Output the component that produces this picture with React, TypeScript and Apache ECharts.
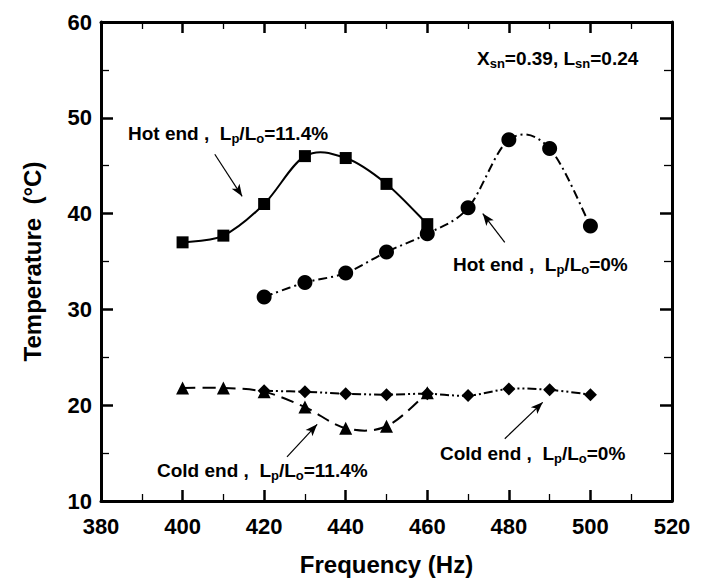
import React, { useEffect, useRef } from "react";
import * as echarts from "echarts";

const hotEnd114 = [[400, 37.0], [410, 37.7], [420, 41.0], [430, 46.0], [440, 45.8], [450, 43.1], [460, 38.9]];
const hotEnd0 = [[420, 31.3], [430, 32.8], [440, 33.8], [450, 36.0], [460, 37.9], [470, 40.6], [480, 47.7], [490, 46.8], [500, 38.7]];
const coldEnd114 = [[400, 21.8], [410, 21.8], [420, 21.4], [430, 19.8], [440, 17.6], [450, 17.8], [460, 21.3]];
const coldEnd0 = [[420, 21.5], [430, 21.4], [440, 21.2], [450, 21.1], [460, 21.2], [470, 21.0], [480, 21.7], [490, 21.6], [500, 21.1]];

const xTicks = [380, 400, 420, 440, 460, 480, 500, 520];
const yTicks = [10, 20, 30, 40, 50, 60];

// annotation arrows in data coordinates: [fromX, fromY, toX, toY]
const arrows = [
  [407.9, 46.2, 414.6, 41.8],
  [479.0, 37.0, 473.6, 40.0],
  [425.6, 14.6, 433.0, 18.0],
  [479.0, 16.5, 488.3, 20.3],
];

const FONT = "Liberation Sans, Arial, sans-serif";

function catmullPath(pts: number[][]) {
  let d = `M${pts[0][0]},${pts[0][1]}`;
  for (let i = 0; i < pts.length - 1; i++) {
    const p0 = pts[Math.max(0, i - 1)];
    const p1 = pts[i];
    const p2 = pts[i + 1];
    const p3 = pts[Math.min(pts.length - 1, i + 2)];
    const c1x = p1[0] + (p2[0] - p0[0]) / 6;
    const c1y = p1[1] + (p2[1] - p0[1]) / 6;
    const c2x = p2[0] - (p3[0] - p1[0]) / 6;
    const c2y = p2[1] - (p3[1] - p1[1]) / 6;
    d += ` C${c1x},${c1y} ${c2x},${c2y} ${p2[0]},${p2[1]}`;
  }
  return d;
}

export default function App() {
  const ref = useRef<HTMLDivElement>(null);
  useEffect(() => {
    document.body.style.margin = "0";
    const chart = echarts.init(ref.current!, null, { renderer: "svg" });
    const axisCommon = { min: 380, max: 520, interval: 20 };
    const frameLine = { show: true, onZero: false, lineStyle: { color: "#000", width: 3 } };
    const xTickStyle = { show: true, inside: true, length: 11, lineStyle: { color: "#000", width: 2.5 } };
    const xMinor = { show: true, splitNumber: 2, length: 7, lineStyle: { color: "#000", width: 1.3 } };
    const yTickStyle = { show: true, inside: true, length: 12, lineStyle: { color: "#000", width: 2.5 } };
    const yMinor = { show: true, splitNumber: 2, length: 8, lineStyle: { color: "#000", width: 1.3 } };
    const labelStyle = { color: "#000", fontFamily: FONT, fontWeight: "bold", fontSize: 22 };
    const rich = {
      sub: { fontSize: 13, fontWeight: "bold", fontFamily: FONT, fill: "#000", padding: [10, 0, 0, 0] },
    };
    const annText = (x: number, y: number, text: string) => ({
      type: "text",
      x,
      y,
      z: 10,
      style: {
        text,
        fill: "#000",
        font: `bold 19px ${FONT}`,
        verticalAlign: "middle",
        align: "left",
        rich,
      },
    });

    const curve = (data: number[][], dash: any) => ({
      type: "custom",
      coordinateSystem: "cartesian2d",
      data,
      z: 2,
      silent: true,
      renderItem: (params: any, api: any) => {
        if (params.dataIndex !== 0) return null;
        const pts = data.map((p) => api.coord(p));
        return {
          type: "path",
          shape: { pathData: catmullPath(pts) },
          style: { stroke: "#000", fill: "none", lineWidth: 2, lineDash: dash },
        };
      },
    });
    const markers = (data: number[][], symbol: string, size: number) => ({
      type: "scatter",
      data,
      symbol,
      symbolSize: size,
      itemStyle: { color: "#000", opacity: 1 },
      z: 4,
      silent: true,
    });

    chart.setOption({
      animation: false,
      grid: { left: 101, right: 31, top: 22, bottom: 79, containLabel: false },
      xAxis: [
        {
          type: "value",
          ...axisCommon,
          position: "bottom",
          axisLine: frameLine,
          axisTick: xTickStyle,
          minorTick: xMinor,
          splitLine: { show: false },
          axisLabel: { ...labelStyle, margin: 14, formatter: (v: number) => (xTicks.includes(v) ? String(v) : "") },
          name: "Frequency (Hz)",
          nameLocation: "middle",
          nameGap: 51,
          nameTextStyle: { color: "#000", fontFamily: FONT, fontWeight: "bold", fontSize: 24 },
        },
        {
          type: "value",
          ...axisCommon,
          position: "top",
          axisLine: frameLine,
          axisTick: xTickStyle,
          minorTick: xMinor,
          splitLine: { show: false },
          axisLabel: { show: false },
        },
      ],
      yAxis: [
        {
          type: "value",
          min: 10,
          max: 60,
          interval: 10,
          position: "left",
          axisLine: frameLine,
          axisTick: yTickStyle,
          minorTick: yMinor,
          splitLine: { show: false },
          axisLabel: { ...labelStyle, margin: 9, formatter: (v: number) => (yTicks.includes(v) ? String(v) : "") },
          name: "Temperature  (°C)",
          nameLocation: "middle",
          nameGap: 57,
          nameTextStyle: { color: "#000", fontFamily: FONT, fontWeight: "bold", fontSize: 24 },
        },
        {
          type: "value",
          min: 10,
          max: 60,
          interval: 10,
          position: "right",
          axisLine: frameLine,
          axisTick: yTickStyle,
          minorTick: yMinor,
          splitLine: { show: false },
          axisLabel: { show: false },
        },
      ],
      series: [
        curve(hotEnd114, null),
        curve(hotEnd0, [9, 4, 2, 4]),
        curve(coldEnd114, [13, 7]),
        curve(coldEnd0, [9, 3, 2, 3, 2, 3]),
        markers(hotEnd114, "rect", 12),
        markers(hotEnd0, "circle", 15),
        markers(coldEnd114, "triangle", 13),
        markers(coldEnd0, "diamond", 13),
        {
          type: "line",
          data: [],
          markLine: {
            silent: true,
            symbol: ["none", "arrow"],
            symbolSize: [7, 12],
            label: { show: false },
            lineStyle: { color: "#000", width: 1.2, type: "solid" },
            data: arrows.map((a) => [{ coord: [a[0], a[1]] }, { coord: [a[2], a[3]] }]),
          },
        },
      ],
      graphic: [
        annText(128, 133, "Hot end ,  L{sub|p}/L{sub|o}=11.4%"),
        annText(477, 58, "X{sub|sn}=0.39, L{sub|sn}=0.24"),
        annText(453, 264, "Hot end ,  L{sub|p}/L{sub|o}=0%"),
        annText(157, 470, "Cold end ,  L{sub|p}/L{sub|o}=11.4%"),
        annText(440, 453, "Cold end ,  L{sub|p}/L{sub|o}=0%"),
      ],
    });
    return () => chart.dispose();
  }, []);
  return <div ref={ref} style={{ width: 703, height: 581, background: "#fff" }} />;
}
